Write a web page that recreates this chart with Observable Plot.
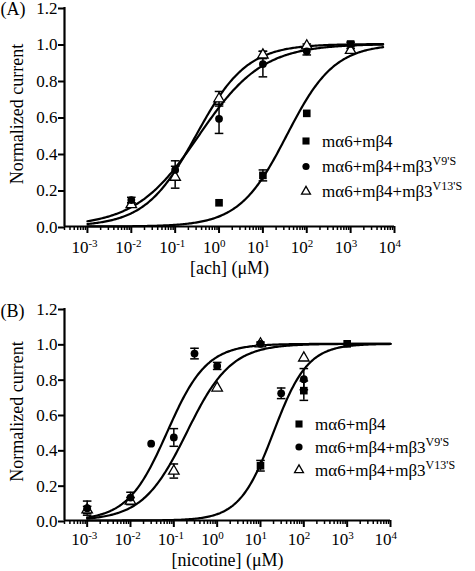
<!DOCTYPE html>
<html><head><meta charset="utf-8">
<script src="https://cdn.jsdelivr.net/npm/d3@7"></script>
<script src="https://cdn.jsdelivr.net/npm/@observablehq/plot@0.6"></script>
<style>
body{margin:0;background:#fff;}
#wrap{position:relative;width:475px;height:571px;font-family:"Liberation Serif","DejaVu Serif",serif;color:#000;}
#wrap > svg{position:absolute;left:0;}
#wrap svg text{font-family:"Liberation Serif","DejaVu Serif",serif;}
</style></head><body><div id="wrap"></div>
<script>
// ---------- axis tick values ----------
const decades = [1e-3, 1e-2, 1e-1, 1e0, 1e1, 1e2, 1e3, 1e4];
const decadeExp = ["-3", "-2", "-1", "0", "1", "2", "3", "4"];
const yTicks = [0, 0.2, 0.4, 0.6, 0.8, 1.0, 1.2];
const xDomain = [3e-4, 1e4];

// ---------- legend ----------
const seriesNames = ["mα6+mβ4", "mα6+mβ4+mβ3", "mα6+mβ4+mβ3"];
const seriesSup = ["", "V9'S", "V13'S"];

// ---------- Panel A : acetylcholine ----------
const aSqX = [1, 10, 100, 1000];
const aSqY = [0.13, 0.28, 0.62, 1.0];
const aSqE = [0, 0.03, 0, 0.01];
const aCiX = [0.01, 0.1, 1, 10, 100];
const aCiY = [0.145, 0.31, 0.59, 0.89, 0.96];
const aCiE = [0.015, 0.05, 0.08, 0.07, 0.02];
const aTrX = [0.01, 0.1, 1, 10, 100, 1000];
const aTrY = [0.12, 0.27, 0.70, 0.94, 0.99, 0.965];
const aTrE = [0.01, 0.06, 0.04, 0.02, 0.01, 0.01];
const aFitEC50 = [35, 0.35, 0.3];
const aFitHill = [0.8, 0.6, 0.75];
const aFitRange = [1e-3, 5500];

// ---------- Panel B : nicotine ----------
const bSqX = [10, 100, 1000];
const bSqY = [0.31, 0.735, 1.0];
const bSqE = [0.03, 0.055, 0];
const bCiX = [0.001, 0.01, 0.03, 0.1, 0.3, 1, 10, 30, 100];
const bCiY = [0.07, 0.13, 0.435, 0.47, 0.945, 0.875, 1.0, 0.72, 0.80];
const bCiE = [0.04, 0.03, 0, 0.05, 0.03, 0.02, 0.01, 0.03, 0.06];
const bTrX = [0.001, 0.01, 0.1, 1, 10, 100];
const bTrY = [0.06, 0.11, 0.28, 0.75, 1.0, 0.92];
const bTrE = [0.02, 0.02, 0.04, 0, 0, 0];
const bFitEC50 = [20, 0.07, 0.2];
const bFitHill = [1.1, 0.95, 0.85];
const bFitRange = [1e-3, 1e4];

// ---------- helpers ----------
const FONT = '"Liberation Serif", "DejaVu Serif", serif';
const minorTicks = [];
for (let e = -4; e < 4; e++) for (let m = 2; m <= 9; m++) {
  const v = m * Math.pow(10, e);
  if (v >= xDomain[0] && v <= xDomain[1]) minorTicks.push(v);
}
const capSymbol = {draw(ctx, size) { const r = Math.sqrt(size / Math.PI); ctx.moveTo(-r, 0); ctx.lineTo(r, 0); }};

function series(xs, ys, es, s) { return xs.map((x, i) => ({s, x, y: ys[i], e: es[i]})); }
function fitCurve(ec50, hill, range, s) {
  const out = [], n = 240, l0 = Math.log10(range[0]), l1 = Math.log10(range[1]);
  for (let i = 0; i <= n; i++) {
    const x = Math.pow(10, l0 + (l1 - l0) * i / n);
    out.push({s, x, y: 1 / (1 + Math.pow(ec50 / x, hill))});
  }
  return out;
}

function panel(cfg) {
  const pts = [...series(...cfg.sq, 0), ...series(...cfg.ci, 1), ...series(...cfg.tr, 2)];
  const curves = cfg.ec50.flatMap((ec, i) => fitCurve(ec, cfg.hill[i], cfg.range, i));
  const errs = pts.filter(d => d.e > 0);
  const caps = errs.flatMap(d => [{x: d.x, y: d.y + d.e}, {x: d.x, y: d.y - d.e}]);
  return Plot.plot({
    width: 475, height: cfg.h,
    marginLeft: 64, marginRight: cfg.mr, marginTop: cfg.mt, marginBottom: cfg.mb,
    style: {fontFamily: FONT, fontSize: "17px", color: "#000", background: "transparent", overflow: "visible"},
    x: {type: "log", domain: xDomain, axis: null},
    y: {domain: [0, 1.2], axis: null},
    marks: [
      Plot.line(curves, {x: "x", y: "y", z: "s", stroke: "#000", strokeWidth: 2.2, curve: "linear"}),
      Plot.ruleX(errs, {x: "x", y1: d => d.y - d.e, y2: d => d.y + d.e, stroke: "#000", strokeWidth: 1.5}),
      Plot.dot(caps, {x: "x", y: "y", symbol: capSymbol, r: 4.3, stroke: "#000", strokeWidth: 1.5}),
      Plot.dot(pts.filter(d => d.s === 2), {x: "x", y: "y", symbol: "triangle", r: 3.9, fill: "#fff", stroke: "#000", strokeWidth: 1.3}),
      Plot.dot(pts.filter(d => d.s === 1), {x: "x", y: "y", symbol: "circle", r: 3.9, fill: "#000"}),
      Plot.dot(pts.filter(d => d.s === 0), {x: "x", y: "y", symbol: "square", r: 4.3, fill: "#000"}),
      Plot.axisY({ticks: yTicks, tickFormat: d => d.toFixed(1), tickSize: 6, tickPadding: 1, fontSize: 17, strokeWidth: 2, label: null, dy: 1}),
      Plot.ruleX([xDomain[0]], {stroke: "#000", strokeWidth: 2.2}),
      Plot.ruleY([0], {stroke: "#000", strokeWidth: 2.2}),
      Plot.axisX({ticks: decades, tickSize: 7, tickFormat: () => "", strokeWidth: 2, label: null}),
      Plot.axisX({ticks: minorTicks, tickSize: 4, tickFormat: () => "", strokeWidth: 1.5, label: null}),
      Plot.text(decades, {x: d => d, frameAnchor: "bottom", text: () => "10", textAnchor: "end", lineAnchor: "bottom", dy: cfg.tdy, dx: 1, fontSize: 17}),
      Plot.text(decades, {x: d => d, frameAnchor: "bottom", text: (d, i) => decadeExp[i], textAnchor: "start", lineAnchor: "bottom", dy: cfg.tdy - 6, dx: 1, fontSize: 11}),
      Plot.text([cfg.xlabel], {frameAnchor: "bottom", text: d => d, textAnchor: "middle", lineAnchor: "bottom", dy: cfg.ldy, fontSize: 18}),
      Plot.text(["Normalized current"], {frameAnchor: "left", text: d => d, textAnchor: "middle", lineAnchor: "middle", rotate: -90, dx: -47, dy: -3, fontSize: 18}),
      Plot.text([cfg.tag], {frameAnchor: "top-left", text: d => d, textAnchor: "start", lineAnchor: "bottom", dx: -64, dy: cfg.tagdy, fontSize: 18})
    ]
  });
}

function legend(svg, lx, tx, baselines) {
  const g = d3.select(svg).append("g").attr("font-family", FONT).attr("text-anchor", "start").attr("fill", "#000");
  seriesNames.forEach((name, i) => {
    const by = baselines[i], sy = by - 5.5;
    const sym = d3.symbol(i === 0 ? d3.symbolSquare : i === 1 ? d3.symbolCircle : d3.symbolTriangle,
      i === 0 ? 4.0 * 4.0 * Math.PI : i === 1 ? 3.6 * 3.6 * Math.PI : 3.3 * 3.3 * Math.PI)();
    g.append("path").attr("d", sym).attr("transform", `translate(${lx},${sy})`)
      .attr("fill", i === 2 ? "#fff" : "#000").attr("stroke", i === 2 ? "#000" : "none").attr("stroke-width", 1.3);
    const t = g.append("text").attr("x", tx).attr("y", by).attr("font-size", 17).attr("text-anchor", "start").text(name);
    if (seriesSup[i]) t.append("tspan").attr("font-size", 12).attr("dy", -7).text(seriesSup[i]);
  });
}

const wrap = document.getElementById("wrap");
const A = panel({sq: [aSqX, aSqY, aSqE], ci: [aCiX, aCiY, aCiE], tr: [aTrX, aTrY, aTrE],
  ec50: aFitEC50, hill: aFitHill, range: aFitRange,
  h: 285, mt: 7, mb: 59, mr: 81, tdy: 26, ldy: 47, tagdy: 7.5, xlabel: "[ach] (μM)", tag: "(A)"});
A.style.top = "0px";
wrap.appendChild(A);
legend(A, 306, 322, [146.5, 172, 197]);

const B = panel({sq: [bSqX, bSqY, bSqE], ci: [bCiX, bCiY, bCiE], tr: [bTrX, bTrY, bTrE],
  ec50: bFitEC50, hill: bFitHill, range: bFitRange,
  h: 286, mt: 23, mb: 51, mr: 85, tdy: 24, ldy: 45, tagdy: 8.5, xlabel: "[nicotine] (μM)", tag: "(B)"});
B.style.top = "285px";
wrap.appendChild(B);
legend(B, 299, 315, [429.5 - 285, 452.5 - 285, 475.5 - 285]);
</script></body></html>
